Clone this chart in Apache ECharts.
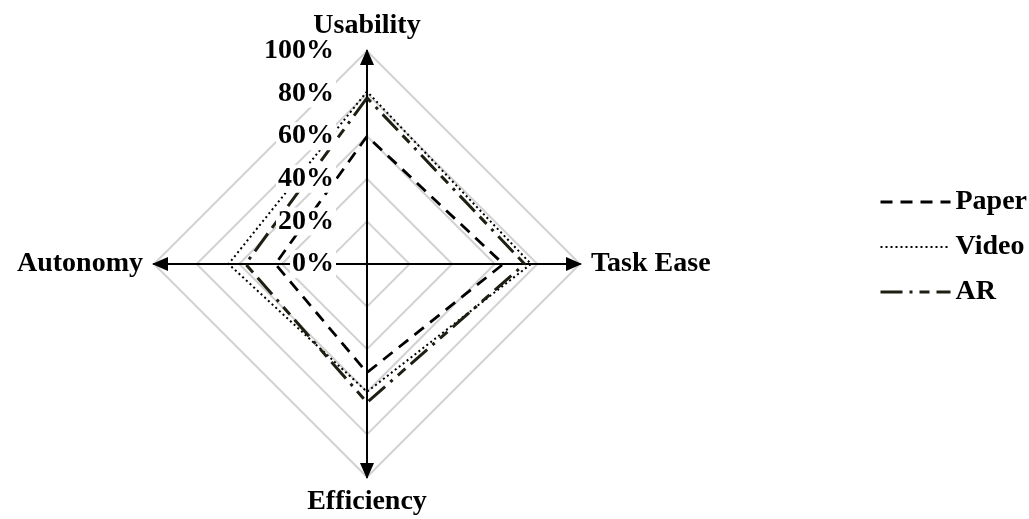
<!DOCTYPE html>
<html>
<head>
<meta charset="utf-8">
<script src="https://cdn.jsdelivr.net/npm/echarts@6/dist/echarts.min.js"></script>
<style>
html,body{margin:0;padding:0;background:#fff;}
#chart{width:1029px;height:519px;}
</style>
</head>
<body>
<div id="chart"></div>
<script>
// Indicators in ECharts radar order (counter-clockwise from top)
var indicatorNames = ['Usability', 'Autonomy', 'Efficiency', 'Task Ease'];
var seriesNames = ['Paper', 'Video', 'AR'];
var paperValues = [60, 43, 51, 64];
var videoValues = [81, 65, 60, 77];
var arValues = [78, 57, 65, 74];
var tickSuffix = '%';

var FONT = '"Liberation Serif", "Times New Roman", serif';
var chart = echarts.init(document.getElementById('chart'), null, {renderer: 'canvas'});

var centerPos = [367, 264];
var rad = 213;

var styles = {
  Paper: {color: '#000000', width: 2.8, type: [12, 8]},
  Video: {color: '#000000', width: 2, type: [2, 3]},
  AR: {color: '#1e1e12', width: 3, type: [22, 7, 3, 7, 10, 7]}
};
var values = {Paper: paperValues, Video: videoValues, AR: arValues};

var mainIndicators = indicatorNames.map(function (n) { return {name: n, min: 0, max: 100}; });
var labelIndicators = indicatorNames.map(function (n, i) {
  var o = {name: n, min: 0, max: 100};
  if (i === 0) {
    o.axisLabel = {
      show: true, color: '#000', fontFamily: FONT, fontWeight: 'bold', fontSize: 28,
      margin: 31, backgroundColor: '#fff', padding: [0, 2],
      formatter: function (v) { return v + tickSuffix; }
    };
  }
  return o;
});

var option = {
  animation: false,
  backgroundColor: '#fff',
  legend: {
    orient: 'vertical',
    left: 873,
    top: 183,
    itemWidth: 70,
    itemHeight: 10,
    itemGap: 17,
    textStyle: {color: '#000', fontFamily: FONT, fontWeight: 'bold', fontSize: 28},
    data: seriesNames.map(function (n) {
      return {
        name: n,
        icon: 'path://M0 0 M0 5 H70 M0 10',
        itemStyle: {color: 'none', borderColor: styles[n].color, borderWidth: styles[n].width, borderType: styles[n].type}
      };
    })
  },
  radar: [{
    center: centerPos,
    radius: rad,
    startAngle: 90,
    shape: 'polygon',
    splitNumber: 5,
    indicator: mainIndicators,
    axisName: {color: '#000', fontFamily: FONT, fontWeight: 'bold', fontSize: 28},
    nameGap: 11,
    axisLine: {show: true, lineStyle: {color: '#000', width: 2}, symbol: ['none', 'triangle'], symbolSize: [14, 16], symbolOffset: [0, -6]},
    splitLine: {show: true, lineStyle: {color: '#d2d2d2', width: 2}},
    splitArea: {show: false},
    axisTick: {show: false},
    axisLabel: {show: false}
  }, {
    center: centerPos,
    radius: rad,
    startAngle: 90,
    shape: 'polygon',
    splitNumber: 5,
    z: 10,
    indicator: labelIndicators,
    axisName: {show: false},
    axisLine: {show: false},
    splitLine: {show: false},
    splitArea: {show: false},
    axisTick: {show: false},
    axisLabel: {show: false}
  }],
  series: [{
    type: 'radar',
    radarIndex: 0,
    symbol: 'none',
    z: 2,
    data: seriesNames.map(function (n) {
      return {name: n, value: values[n], lineStyle: styles[n], itemStyle: {color: styles[n].color}, areaStyle: null};
    })
  }]
};
chart.setOption(option);
</script>
</body>
</html>
